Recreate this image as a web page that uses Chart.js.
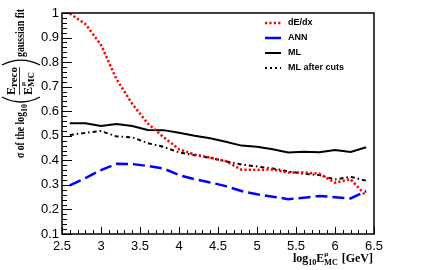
<!DOCTYPE html>
<html><head><meta charset="utf-8">
<script src="https://cdn.jsdelivr.net/npm/chart.js@4/dist/chart.umd.min.js"></script>
<style>html,body{margin:0;padding:0;background:#fff;}#wrap{width:436px;height:270px;}</style>
</head><body><div id="wrap"><canvas id="c" width="436" height="270"></canvas></div>
<script>
const xVals = [2.6,2.8,3.0,3.2,3.4,3.6,3.8,4.0,4.2,4.4,4.6,4.8,5.0,5.2,5.4,5.6,5.8,6.0,6.2,6.4];
const dedx = [0.998,0.955,0.87,0.73,0.63,0.55,0.495,0.445,0.424,0.411,0.397,0.362,0.361,0.363,0.35,0.351,0.345,0.309,0.323,0.255];
const ann = [0.298,0.328,0.36,0.386,0.385,0.377,0.367,0.34,0.323,0.31,0.295,0.275,0.262,0.252,0.242,0.248,0.255,0.25,0.245,0.275];
const ml = [0.551,0.551,0.540,0.548,0.540,0.524,0.523,0.512,0.50,0.49,0.476,0.46,0.455,0.445,0.432,0.435,0.433,0.442,0.434,0.453];
const mlCuts = [0.503,0.512,0.519,0.497,0.494,0.47,0.455,0.432,0.421,0.41,0.396,0.383,0.375,0.367,0.355,0.345,0.34,0.322,0.333,0.317];
const seriesNames = ['dE/dx','ANN','ML','ML after cuts'];
const xTickLabels = ['2.5','3','3.5','4','4.5','5','5.5','6','6.5'];
const yTickLabels = ['0.1','0.2','0.3','0.4','0.5','0.6','0.7','0.8','0.9','1'];

const pts = arr => arr.map((v,i)=>({x:xVals[i], y:v}));
const SANS = '"Liberation Sans", Arial, Helvetica, sans-serif';
const SERIF = '"Liberation Serif", "Times New Roman", serif';

const frame = {
  id:'frame',
  afterDatasetsDraw(chart){
    const {ctx, chartArea:a, scales:{x,y}} = chart;
    ctx.save();
    ctx.strokeStyle='#000'; ctx.lineWidth=1;
    ctx.beginPath();
    for(let i=0;i<=40;i++){
      const v=2.5+i*0.1; const px=Math.round(x.getPixelForValue(v))+0.5;
      const L = (i%5===0)?7:4;
      ctx.moveTo(px,a.bottom); ctx.lineTo(px,a.bottom-L);
    }
    for(let i=0;i<=45;i++){
      const v=0.1+i*0.02; const py=Math.round(y.getPixelForValue(v))+0.5;
      const L = (i%5===0)?10:5;
      ctx.moveTo(a.left,py); ctx.lineTo(a.left+L,py);
    }
    ctx.stroke();
    ctx.lineWidth=1.5;
    ctx.strokeRect(a.left,a.top,a.right-a.left,a.bottom-a.top);
    // legend
    const ds = chart.data.datasets;
    const rows=[23,38,53,68];
    ds.forEach((d,i)=>{
      ctx.save();
      ctx.strokeStyle=d.borderColor; ctx.lineWidth=d.borderWidth;
      ctx.setLineDash(d.legendDash||[]);
      ctx.beginPath(); ctx.moveTo(265,rows[i]); ctx.lineTo(281,rows[i]); ctx.stroke();
      ctx.restore();
      ctx.fillStyle='#000'; ctx.font='bold 9px '+SANS; ctx.textBaseline='middle'; ctx.textAlign='left';
      ctx.fillText(d.label,288,rows[i]);
    });
    // x title
    ctx.textBaseline='alphabetic'; ctx.textAlign='left';
    let u=293; const base=262;
    const put=(s,size,dy)=>{ctx.font='bold '+size+'px '+SERIF; ctx.fillText(s,u,base+(dy||0)); return ctx.measureText(s).width;};
    u+=put('log',12); u+=put('10',8,3); u+=put('E',12);
    const su=u; const w1=put('\u03bc',7,-6); u=su; const w2=put('MC',8,3); u=su+Math.max(w1,w2)+1;
    put(' [GeV]',12);
    // y title (rotated)
    ctx.save();
    ctx.translate(24,158); ctx.rotate(-Math.PI/2);
    ctx.font='bold 12px '+SERIF; ctx.fillText('\u03c3 of the log',0,0,46);
    ctx.font='bold 8px '+SERIF; ctx.fillText('10',46,3);
    ctx.lineWidth=1.3; ctx.beginPath(); ctx.moveTo(61,-22); ctx.quadraticCurveTo(51,-3,61,16); ctx.stroke();
    const f0=63;
    let tn=f0; ctx.font='bold 12px '+SERIF; ctx.fillText('E',tn,-9); tn+=ctx.measureText('E').width;
    ctx.font='bold 11px '+SERIF; ctx.fillText('reco',tn,-7); tn+=ctx.measureText('reco').width;
    let td=f0; ctx.font='bold 12px '+SERIF; ctx.fillText('E',td,8); td+=ctx.measureText('E').width;
    ctx.font='bold 7px '+SERIF; ctx.fillText('\u03bc',td+1,1);
    ctx.font='bold 9px '+SERIF; ctx.fillText('MC',td,10); td+=ctx.measureText('MC').width;
    const fe=Math.max(tn,td);
    ctx.lineWidth=0.8; ctx.beginPath(); ctx.moveTo(f0,-4.5); ctx.lineTo(fe,-4.5); ctx.stroke();
    ctx.lineWidth=1.3; ctx.beginPath(); ctx.moveTo(fe+2,-22); ctx.quadraticCurveTo(fe+12,-3,fe+2,16); ctx.stroke();
    ctx.font='bold 12px '+SERIF; ctx.fillText('gaussian fit',fe+10,0,149-(fe+10));
    ctx.restore();
    ctx.restore();
  }
};

new Chart(document.getElementById('c'),{
  type:'line',
  data:{datasets:[
    {label:seriesNames[0],data:pts(dedx),borderColor:'#ff0000',borderWidth:2.5,borderDash:[2.2,2.2],legendDash:[2.2,2.2]},
    {label:seriesNames[1],data:pts(ann),borderColor:'#0000ff',borderWidth:2.5,borderDash:[12,5],legendDash:[]},
    {label:seriesNames[2],data:pts(ml),borderColor:'#000000',borderWidth:2,borderDash:[],legendDash:[]},
    {label:seriesNames[3],data:pts(mlCuts),borderColor:'#000000',borderWidth:2,borderDash:[4,3,1.5,3],legendDash:[2,3]}
  ]},
  options:{
    responsive:false, animation:false,
    layout:{padding:{left:0,right:62,top:13,bottom:0}},
    elements:{point:{radius:0},line:{tension:0,fill:false}},
    plugins:{legend:{display:false},tooltip:{enabled:false}},
    scales:{
      x:{type:'linear',min:2.5,max:6.5,
        afterFit(s){s.height=36;},
        afterBuildTicks(s){s.ticks=xTickLabels.map(l=>({value:parseFloat(l)}));},
        grid:{display:false,drawTicks:false},border:{display:false},
        ticks:{padding:5,color:'#000',font:{family:SANS,size:13},callback:(v,i)=>xTickLabels[i],maxRotation:0,autoSkip:false}},
      y:{type:'linear',min:0.1,max:1,
        afterFit(s){s.width=62;},
        afterBuildTicks(s){s.ticks=yTickLabels.map(l=>({value:parseFloat(l)}));},
        grid:{display:false,drawTicks:false},border:{display:false},
        ticks:{padding:3,color:'#000',font:{family:SANS,size:13},callback:(v,i)=>yTickLabels[i],autoSkip:false}}
    }
  },
  plugins:[frame]
});
</script></body></html>
